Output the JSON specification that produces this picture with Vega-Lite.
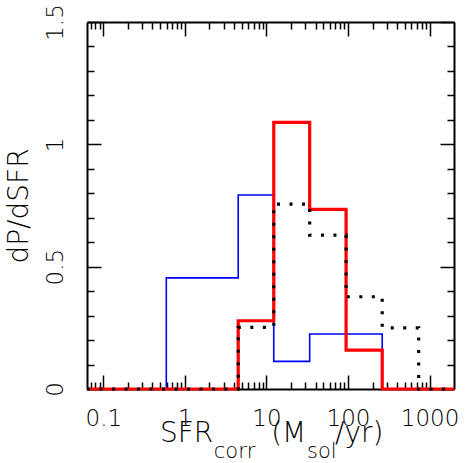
{
  "$schema": "https://vega.github.io/schema/vega-lite/v6.json",
  "width": 367,
  "height": 367,
  "autosize": {"type": "none"},
  "padding": {"left": 87, "top": 22, "right": 12, "bottom": 74},
  "background": "white",
  "config": {
    "view": {"stroke": null},
    "axis": {"domainColor": "black", "domainWidth": 2, "tickColor": "black", "tickWidth": 1.5, "labelColor": "black", "titleColor": "black", "labelFont": "DejaVu Sans", "titleFont": "DejaVu Sans", "labelFontWeight": 200, "titleFontWeight": 200, "grid": false, "labelOverlap": false, "labelFlush": false, "labelBound": false}
  },
  "datasets": {
    "hist": [
      {"s": "blue", "x": 0.063096, "y": 0},
      {"s": "blue", "x": 0.592, "y": 0.454},
      {"s": "blue", "x": 4.51, "y": 0.793},
      {"s": "blue", "x": 12.3, "y": 0.113},
      {"s": "blue", "x": 33.9, "y": 0.225},
      {"s": "blue", "x": 263, "y": 0},
      {"s": "blue", "x": 1995, "y": 0},
      {"s": "red", "x": 0.063096, "y": 0},
      {"s": "red", "x": 4.51, "y": 0.279},
      {"s": "red", "x": 12.3, "y": 1.09},
      {"s": "red", "x": 33.9, "y": 0.734},
      {"s": "red", "x": 94.8, "y": 0.159},
      {"s": "red", "x": 263, "y": 0},
      {"s": "red", "x": 1995, "y": 0},
      {"s": "black", "x": 0.063096, "y": 0},
      {"s": "black", "x": 4.51, "y": 0.252},
      {"s": "black", "x": 12.3, "y": 0.756},
      {"s": "black", "x": 33.9, "y": 0.629},
      {"s": "black", "x": 94.8, "y": 0.377},
      {"s": "black", "x": 263, "y": 0.25},
      {"s": "black", "x": 736, "y": 0},
      {"s": "black", "x": 1995, "y": 0}
    ],
    "mainText": [
      {"t": "SFR", "x": 0.4955, "y": -0.2166},
      {"t": "(M", "x": 11.44, "y": -0.2166},
      {"t": "/yr)", "x": 69.3, "y": -0.2166}
    ],
    "subText": [
      {"t": "corr", "x": 2.263, "y": -0.282},
      {"t": "sol", "x": 31.43, "y": -0.282}
    ]
  },
  "resolve": {"axis": {"x": "independent", "y": "independent"}},
  "layer": [
    {
      "data": {"name": "hist"},
      "transform": [{"filter": "datum.s == 'blue'"}],
      "mark": {"type": "line", "interpolate": "step-after", "color": "#0000ff", "strokeWidth": 1.6},
      "encoding": {
        "x": {"field": "x", "type": "quantitative", "scale": {"type": "log", "domain": [0.063096, 1995.26], "nice": false},
          "axis": {"orient": "bottom", "title": null,
            "values": [0.07,0.08,0.09,0.1,0.2,0.3,0.4,0.5,0.6,0.7,0.8,0.9,1,2,3,4,5,6,7,8,9,10,20,30,40,50,60,70,80,90,100,200,300,400,500,600,700,800,900,1000],
            "tickSize": {"condition": {"test": "indexof([0.1,1,10,100,1000], datum.value) >= 0", "value": -14}, "value": -7},
            "labelExpr": "indexof([0.1,1,10,100,1000], datum.value) >= 0 ? toString(datum.value) : ''",
            "labelFontSize": 23, "labelPadding": 32, "labelBaseline": "top"}},
        "y": {"field": "y", "type": "quantitative", "scale": {"domain": [0, 1.5], "nice": false, "zero": false},
          "axis": {"orient": "left", "title": "dP/dSFR", "titleFontSize": 28, "titleX": -60, "titleBaseline": "alphabetic", "titleAngle": -90,
            "values": [0,0.1,0.2,0.3,0.4,0.5,0.6,0.7,0.8,0.9,1,1.1,1.2,1.3,1.4,1.5],
            "tickSize": {"condition": {"test": "indexof([0,0.5,1,1.5], datum.value) >= 0", "value": -14}, "value": -7},
            "labelExpr": "indexof([0,0.5,1,1.5], datum.value) >= 0 ? toString(datum.value) : ''",
            "labelFontSize": 23, "labelAngle": -90, "labelAlign": "center", "labelBaseline": "bottom", "labelPadding": 34}}
      }
    },
    {
      "data": {"name": "hist"},
      "transform": [{"filter": "datum.s == 'red'"}],
      "mark": {"type": "line", "interpolate": "step-after", "color": "#ff0000", "strokeWidth": 3.2},
      "encoding": {
        "x": {"field": "x", "type": "quantitative",
          "axis": {"orient": "top", "title": null, "labels": false,
            "values": [0.07,0.08,0.09,0.1,0.2,0.3,0.4,0.5,0.6,0.7,0.8,0.9,1,2,3,4,5,6,7,8,9,10,20,30,40,50,60,70,80,90,100,200,300,400,500,600,700,800,900,1000],
            "tickSize": {"condition": {"test": "indexof([0.1,1,10,100,1000], datum.value) >= 0", "value": -14}, "value": -7}}},
        "y": {"field": "y", "type": "quantitative",
          "axis": {"orient": "right", "title": null, "labels": false,
            "values": [0,0.1,0.2,0.3,0.4,0.5,0.6,0.7,0.8,0.9,1,1.1,1.2,1.3,1.4,1.5],
            "tickSize": {"condition": {"test": "indexof([0,0.5,1,1.5], datum.value) >= 0", "value": -14}, "value": -7}}}
      }
    },
    {
      "data": {"name": "hist"},
      "transform": [{"filter": "datum.s == 'black'"}],
      "mark": {"type": "line", "interpolate": "step-after", "color": "black", "strokeWidth": 3.2, "strokeDash": [3, 9.5]},
      "encoding": {
        "x": {"field": "x", "type": "quantitative", "axis": null},
        "y": {"field": "y", "type": "quantitative", "axis": null}
      }
    },
    {
      "data": {"name": "mainText"},
      "mark": {"type": "text", "align": "left", "baseline": "alphabetic", "font": "DejaVu Sans", "fontWeight": 200, "fontSize": 28, "color": "black"},
      "encoding": {
        "x": {"field": "x", "type": "quantitative", "axis": null},
        "y": {"field": "y", "type": "quantitative", "axis": null},
        "text": {"field": "t"}
      }
    },
    {
      "data": {"name": "subText"},
      "mark": {"type": "text", "align": "left", "baseline": "alphabetic", "font": "DejaVu Sans", "fontWeight": 200, "fontSize": 21, "color": "black"},
      "encoding": {
        "x": {"field": "x", "type": "quantitative", "axis": null},
        "y": {"field": "y", "type": "quantitative", "axis": null},
        "text": {"field": "t"}
      }
    }
  ]
}
